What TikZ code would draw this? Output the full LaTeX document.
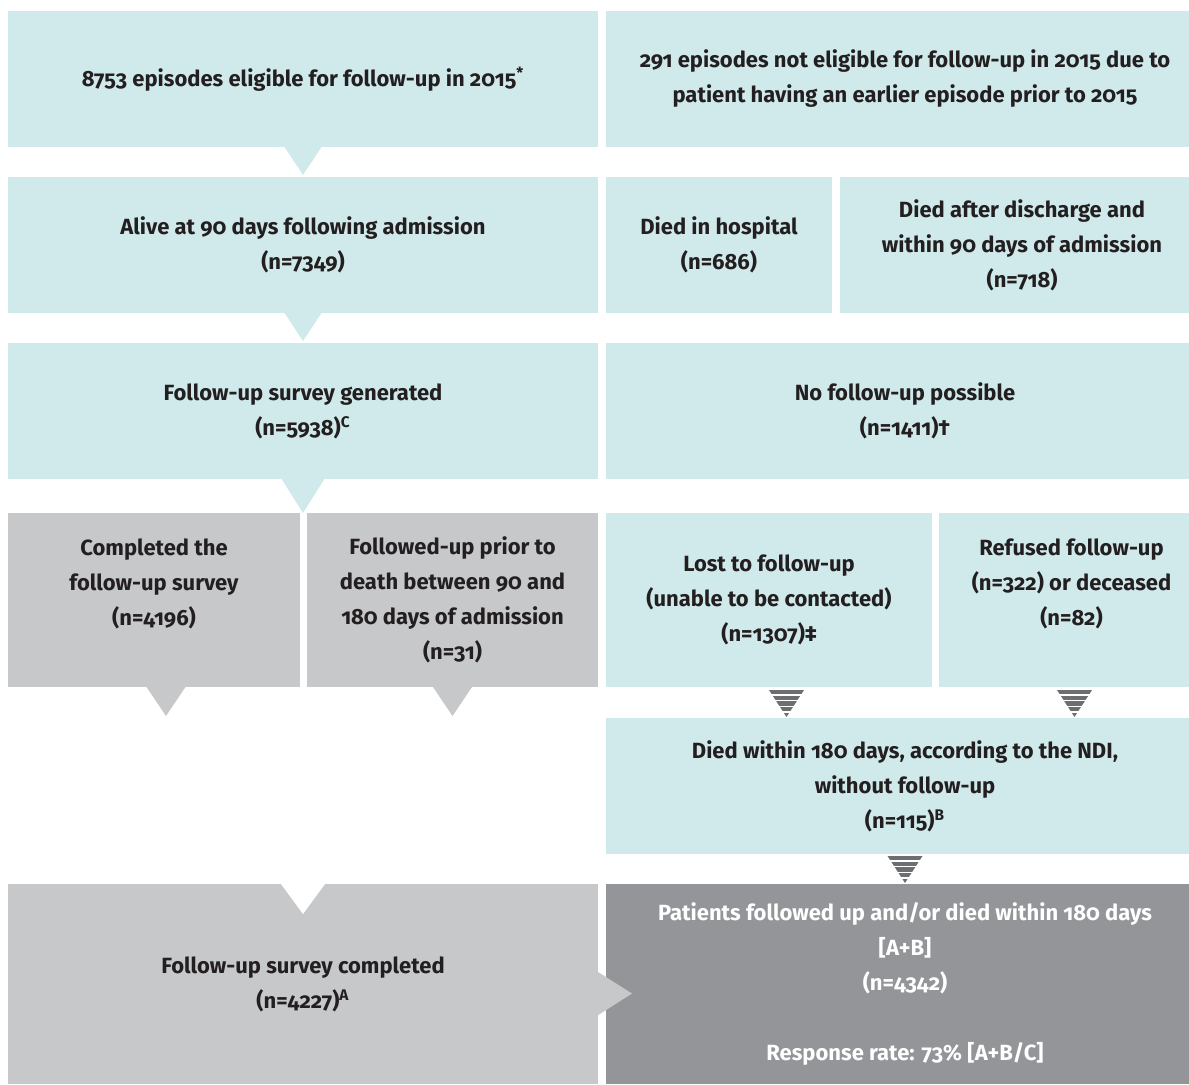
\documentclass[tikz,border=0pt]{standalone}
\usepackage{fontspec}
\setmainfont{Fira Sans}[Numbers=OldStyle]
\usepackage{xcolor}

\definecolor{boxteal}{RGB}{208,234,235}
\definecolor{boxgrey}{RGB}{199,200,202}
\definecolor{boxdark}{RGB}{147,149,152}
\definecolor{stripegrey}{RGB}{109,110,113}
\definecolor{inkgrey}{RGB}{35,31,32}

\tikzset{
  box/.style={rectangle, anchor=north west, inner sep=0pt, outer sep=0pt,
    align=center, text=inkgrey,
    font=\fontsize{11pt}{17.5pt}\selectfont\bfseries},
  tealbox/.style={box, fill=boxteal},
  greybox/.style={box, fill=boxgrey},
  darkbox/.style={box, fill=boxdark, text=white},
  stripedtip/.pic={
    \fill[stripegrey] (-8.75pt,0) -- (8.75pt,0) -- (0,-13.5pt) -- cycle;
    \foreach \k in {2.4,5.35,8.15,10.9}
      \draw[white, line width=0.7pt] (-9pt,-\k pt) -- (9pt,-\k pt);
  }
}

\begin{document}
\begin{tikzpicture}[x=0.5pt,y=-0.5pt]
    \useasboundingbox (0,0) rectangle (1189,1084);

    % Episodes
    \node[tealbox, minimum width=295pt, minimum height=68pt] (elig) at (8,11)
      {8753 episodes eligible for follow-up in 2015\textsuperscript{*}};
    \node[tealbox, minimum width=299pt, minimum height=68pt] (notelig) at (606,11)
      {291 episodes not eligible for follow-up in 2015 due to\\patient having an earlier episode prior to 2015};

    % Status at 90 days
    \node[tealbox, minimum width=295pt, minimum height=68pt] (alive) at (8,177)
      {Alive at 90 days following admission\\(n=7349)};
    \node[tealbox, minimum width=113pt, minimum height=68pt] (hosp) at (606,177)
      {Died in hospital\\(n=686)};
    \node[tealbox, minimum width=182pt, minimum height=68pt] (disch) at (840,177)
      {Died after discharge and\\within 90 days of admission\\(n=718)};

    % Survey
    \node[tealbox, minimum width=295pt, minimum height=68pt] (survey) at (8,343)
      {Follow-up survey generated\\(n=5938)\textsuperscript{C}};
    \node[tealbox, minimum width=299pt, minimum height=68pt] (nofu) at (606,343)
      {No follow-up possible\\(n=1411)†};

    % Outcome of the survey
    \node[greybox, minimum width=146pt, minimum height=87pt] (compl) at (8,513)
      {Completed the\\follow-up survey\\(n=4196)\\\mbox{}};
    \node[greybox, minimum width=145.5pt, minimum height=87pt] (prior) at (307,513)
      {Followed-up prior to\\death between 90 and\\180 days of admission\\(n=31)};
    \node[tealbox, minimum width=163pt, minimum height=87pt] (lost) at (606,513)
      {Lost to follow-up\\(unable to be contacted)\\(n=1307)‡};
    \node[tealbox, minimum width=132.5pt, minimum height=87pt] (refused) at (939,513)
      {Refused follow-up\\(n=322) or deceased\\(n=82)\\\mbox{}};

    % NDI check
    \node[tealbox, minimum width=299pt, minimum height=68pt] (ndi) at (606,718)
      {Died within 180 days, according to the NDI,\\without follow-up\\(n=115)\textsuperscript{B}};

    % Totals
    \node[greybox, minimum width=295pt, minimum height=100pt] (done) at (8,884)
      {Follow-up survey completed\\(n=4227)\textsuperscript{A}};
    \node[darkbox, minimum width=299pt, minimum height=100pt] (total) at (606,884)
      {Patients followed up and/or died within 180 days\\{[A+B]}\\(n=4342)\\[17.5pt]Response rate: 73\% [A+B/C]};

    % Arrows down the left column
    \fill[boxteal] ([xshift=-9.25pt]elig.south) -- ([xshift=9.25pt]elig.south) -- ([yshift=-14pt]elig.south) -- cycle;
    \fill[boxteal] ([xshift=-9.25pt]alive.south) -- ([xshift=9.25pt]alive.south) -- ([yshift=-14pt]alive.south) -- cycle;
    \fill[boxteal] ([xshift=-10.7pt]survey.south) -- ([xshift=10.7pt]survey.south) -- ([yshift=-17pt]survey.south) -- cycle;
    \fill[boxgrey] ([xshift=-3.75pt]compl.south) -- ([xshift=15.75pt]compl.south) -- ([xshift=6pt,yshift=-14.5pt]compl.south) -- cycle;
    \fill[boxgrey] ([xshift=-9.75pt]prior.south) -- ([xshift=9.75pt]prior.south) -- ([yshift=-14.5pt]prior.south) -- cycle;

    % Notch in the completed box, and arrow into the totals
    \fill[white] ([xshift=-11pt]done.north) -- ([xshift=11pt]done.north) -- ([yshift=-15pt]done.north) -- cycle;
    \fill[boxgrey] ([yshift=6pt]done.east) -- ([yshift=-15.6pt]done.east) -- ([xshift=17pt,yshift=-4.75pt]done.east) -- cycle;

    % Striped arrows down the right column
    \pic at ([xshift=8.75pt,yshift=-1.5pt]lost.south) {stripedtip};
    \pic at ([xshift=1.5pt,yshift=-1.5pt]refused.south) {stripedtip};
    \pic at ([yshift=-1pt]ndi.south) {stripedtip};
\end{tikzpicture}
\end{document}
